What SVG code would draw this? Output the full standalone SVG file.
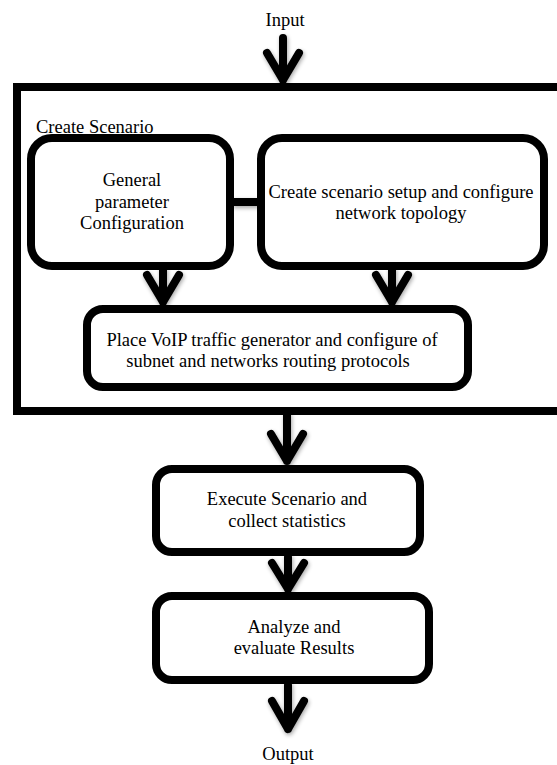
<svg xmlns="http://www.w3.org/2000/svg" width="557" height="765" viewBox="0 0 557 765">
<style>
  .box { fill: #ffffff; stroke: #000000; stroke-width: 8; }
  .frame { fill: none; stroke: #000000; stroke-width: 8; }
  .lbl { font-family: "Liberation Serif", "Times New Roman", serif; font-size: 18.5px; fill: #000000; text-anchor: middle; }
  .lbl-l { font-family: "Liberation Serif", "Times New Roman", serif; font-size: 18.5px; fill: #000000; }
  .arr { fill: none; stroke: #000000; stroke-width: 8; stroke-linecap: round; stroke-linejoin: round; }
</style>
<defs>
  <filter id="sh" x="-50%" y="-50%" width="200%" height="200%">
    <feGaussianBlur in="SourceAlpha" stdDeviation="2"/>
    <feOffset dx="1" dy="2" result="b"/>
    <feComponentTransfer><feFuncA type="linear" slope="0.35"/></feComponentTransfer>
    <feMerge><feMergeNode/><feMergeNode in="SourceGraphic"/></feMerge>
  </filter>
</defs>
<rect width="557" height="765" fill="#ffffff"/>

<g id="input">
  <text class="lbl" x="285" y="26">Input</text>
</g>

<g id="create-scenario">
  <rect class="frame" x="17" y="87" width="560" height="324"/>
  <text class="lbl-l" x="36" y="133">Create Scenario</text>
</g>

<g id="connectors" filter="url(#sh)">
  <line class="arr" x1="232" y1="202" x2="259" y2="202" style="stroke-linecap:butt"/>
  <path class="arr" d="M283 38 L283 80 M267 53 L283 80 L299 53"/>
  <path class="arr" d="M163 270 L163 302 M147 275 L163 302 L179 275"/>
  <path class="arr" d="M392 270 L392 302 M376 275 L392 302 L408 275"/>
  <path class="arr" d="M287 415 L287 461 M271 434 L287 461 L303 434"/>
  <path class="arr" d="M288 557 L288 589 M272 563 L288 589 L304 563"/>
  <path class="arr" d="M288 685 L288 729 M272 701 L288 729 L304 701"/>
</g>

<g id="general">
  <rect class="box" x="31" y="138" width="199" height="128" rx="21"/>
  <text class="lbl" x="132" y="186">General</text>
  <text class="lbl" x="132" y="207.5">parameter</text>
  <text class="lbl" x="132" y="229">Configuration</text>
</g>

<g id="setup">
  <rect class="box" x="261" y="138" width="283" height="128" rx="21"/>
  <text class="lbl" x="401" y="198">Create scenario setup and configure</text>
  <text class="lbl" x="401" y="219">network topology</text>
</g>

<g id="voip">
  <rect class="box" x="87" y="309" width="381" height="78" rx="16"/>
  <text class="lbl" x="272" y="346">Place VoIP traffic generator and configure of</text>
  <text class="lbl" x="268" y="367">subnet and networks routing protocols</text>
</g>

<g id="execute">
  <rect class="box" x="156" y="469" width="264" height="83" rx="16"/>
  <text class="lbl" x="287" y="505">Execute Scenario and</text>
  <text class="lbl" x="287" y="527">collect statistics</text>
</g>

<g id="analyze">
  <rect class="box" x="156" y="596" width="273" height="84" rx="16"/>
  <text class="lbl" x="294" y="633">Analyze and</text>
  <text class="lbl" x="294" y="654">evaluate Results</text>
</g>

<g id="output">
  <text class="lbl" x="288" y="760">Output</text>
</g>
</svg>
